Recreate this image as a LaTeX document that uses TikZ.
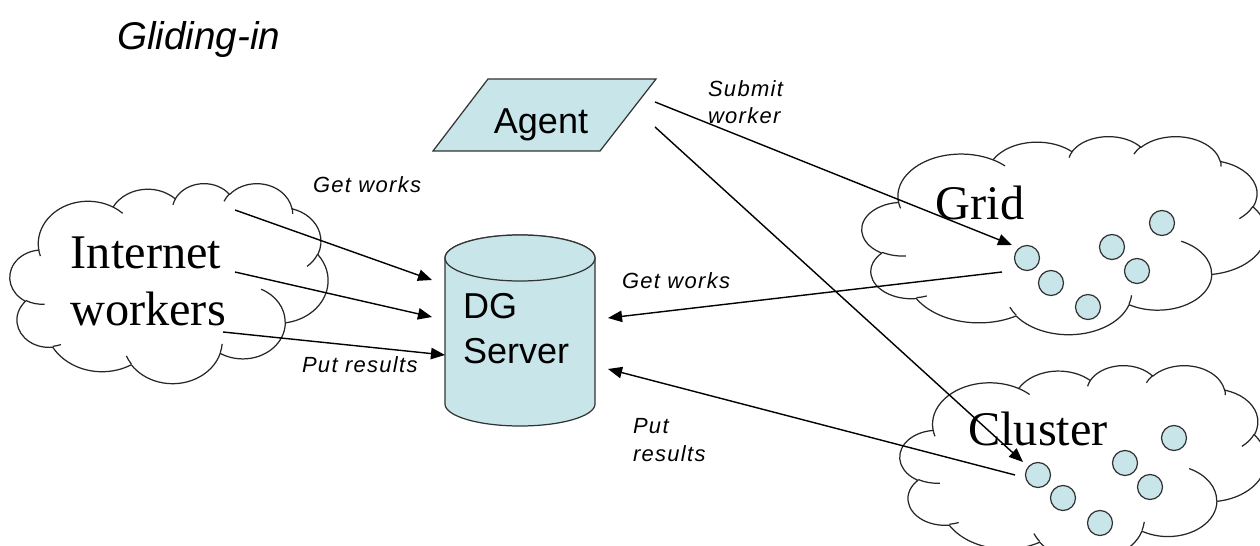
\documentclass[tikz,border=0pt]{standalone}
\usepackage{fontspec}
\setmainfont{Liberation Sans}
\newfontfamily\cloudfont{Liberation Serif}
\newfontfamily\notefont[LetterSpace=6]{Liberation Sans}
\usetikzlibrary{arrows.meta}
\definecolor{dgblue}{RGB}{200,230,234}

% Cloud outline, built from elliptical arcs in a 43.2 x 43.2 unit box.
% Arc angles are given as ray angles and turned into parametric ones.
\newcommand\cldmove[2]{\xdef\cldpath{\cldpath(#1,#2)}}
\newcommand\cldarc[4]{%
  \pgfmathsetmacro\cldS{atan2((#1)*sin(#3),(#2)*cos(#3))}%
  \pgfmathsetmacro\cldE{atan2((#1)*sin((#3)+(#4)),(#2)*cos((#3)+(#4)))}%
  \pgfmathsetmacro\cldE{ifthenelse(\cldE<\cldS,\cldE+360,\cldE)}%
  \xdef\cldpath{\cldpath arc[start angle=\cldS,end angle=\cldE,x radius=#1,y radius=#2]}%
}
\gdef\cldpath{}
\cldmove{3.9}{14.37}
\cldarc{6.753}{9.19}{-190.48748}{123.78053}
\cldarc{5.333}{7.267}{-144.10238}{89.94523}
\cldarc{4.365}{5.945}{-145.80792}{99.72302}
\cldarc{4.857}{6.595}{-130.98607}{117.24173}
\cldarc{5.333}{7.273}{-78.70888}{109.02692}
\cldarc{6.775}{9.22}{-46.26725}{130.269}
\cldarc{5.785}{7.867}{0.62502}{114.03333}
\cldarc{6.752}{9.215}{22.4516}{115.17255}
\cldarc{7.72}{10.543}{66.24263}{75.71102}
\cldarc{4.36}{5.918}{-274.94208}{146.73557}
\cldarc{4.345}{5.945}{-246.8285}{152.51885}
\xdef\cldouter{\cldpath -- cycle}
\gdef\cldpath{}
\cldmove{4.693}{26.177}\cldarc{4.345}{5.945}{86.742}{26.4295}
\cldmove{6.928}{34.899}\cldarc{4.36}{5.918}{73.61047}{11.44747}
\cldmove{16.478}{39.09}\cldarc{6.752}{9.215}{137.62415}{14.0811}
\cldmove{28.827}{34.751}\cldarc{6.752}{9.215}{6.45327}{15.99835}
\cldmove{34.129}{22.954}\cldarc{5.785}{7.867}{-70.29235}{70.91737}
\cldmove{41.798}{15.354}\cldarc{5.333}{7.273}{30.31803}{27.7515}
\cldmove{38.324}{5.426}\cldarc{4.857}{6.595}{-13.74433}{14.8589}
\cldmove{29.078}{3.952}\cldarc{4.857}{6.595}{-149.18145}{18.19537}
\cldmove{22.141}{4.72}\cldarc{4.365}{5.945}{-163.49427}{17.68635}
\cldmove{14}{5.192}\cldarc{6.753}{9.19}{-66.70695}{12.31935}
\cldmove{4.127}{15.789}\cldarc{6.753}{9.19}{157.65435}{11.85817}
\global\let\cldinner\cldpath

% \drawcloud{left}{top}{width}{height}
\newcommand\drawcloud[4]{%
  \pgfmathsetmacro\cldxu{#3*0.02/43.2}%
  \pgfmathsetmacro\cldyu{-#4*0.02/43.2}%
  \begin{scope}[shift={(#1,#2)}, x=\cldxu cm, y=\cldyu cm]
    \draw[cloudline] \cldouter;
    \draw[cloudline] \cldinner;
  \end{scope}}

\begin{document}
\begin{tikzpicture}[x=0.02cm, y=-0.02cm,
  cloudline/.style={draw=black!85, line width=0.7pt, line join=round},
  shade/.style={fill=dgblue, draw=black!80, line width=0.7pt},
  worker/.style={fill=dgblue, draw=black!80, line width=0.7pt},
  flow/.style={draw=black, line width=0.8pt, -{Triangle[length=8pt,width=6.5pt]}},
  txt/.style={inner sep=0pt, outer sep=0pt},
  bigserif/.style={txt, font=\cloudfont\fontsize{27.5pt}{32pt}\selectfont},
  boxtext/.style={txt, font=\fontsize{20.5pt}{24pt}\selectfont},
  note/.style={txt, anchor=base west, font=\notefont\itshape\fontsize{12.5pt}{14pt}\selectfont}]
\useasboundingbox (0,0) rectangle (1260,546);
\fill[white] (0,0) rectangle (1260,546);

% title
\node[txt, anchor=base west, font=\itshape\fontsize{22pt}{26pt}\selectfont] (title) at (117,50) {Gliding-in};

% clouds
\drawcloud{10}{183}{318}{200}
\drawcloud{862}{136}{404}{198}
\drawcloud{900}{365}{366}{195}

\node[bigserif, anchor=base] (iw1) at (146,269) {Internet};
\node[bigserif, anchor=base] (iw2) at (148,326) {workers};
\node[bigserif, anchor=base] (grid) at (980,220) {Grid};
\node[bigserif, anchor=base] (cluster) at (1038,446) {Cluster};

% worker machines
\foreach \p in {(1027,258),(1051,283),(1088,307),(1112,247),(1137,271),(1162,223)}
  \draw[worker] \p circle[radius=12.5];
\foreach \p in {(1038,475),(1063,498),(1100,523),(1125,463),(1150,487),(1174,438)}
  \draw[worker] \p circle[radius=12.5];

% agent
\draw[shade] (488,79) -- (656,79) -- (600,151) -- (433,151) -- cycle;
\node[boxtext, anchor=base] (agent) at (541,134) {Agent};

% DG server
\path[shade] (445,258) -- (445,404)
  arc[start angle=180, end angle=0, x radius=75, y radius=22]
  -- (595,258) arc[start angle=0, end angle=-180, x radius=75, y radius=23] -- cycle;
\draw[shade] (520,258) ellipse[x radius=75, y radius=23];
\node[boxtext, anchor=base west] (dg) at (463,319) {DG};
\node[boxtext, anchor=base west] (srv) at (463,364) {Server};

% labels
\node[note] (lgw) at (313,193) {Get works};
\node[note] (lpr) at (302,373) {Put results};
\node[note] (rgw) at (622,289) {Get works};
\node[note] (sub1) at (708,97) {Submit};
\node[note] (sub2) at (708,124) {worker};
\node[note] (rpr1) at (633,434) {Put};
\node[note] (rpr2) at (633,462) {results};

% connector ends
\coordinate (iwA) at (235,210);
\coordinate (iwB) at (235,272);
\coordinate (iwC) at (223,332);
\coordinate (srvA) at (432,280);
\coordinate (srvB) at (432,317);
\coordinate (srvC) at (445,355);
\coordinate (srvD) at (608,318);
\coordinate (srvE) at (608,369);
\coordinate (gridOut) at (1002,272);
\coordinate (gridIn) at (1012,245);
\coordinate (clOut) at (1015,475);
\coordinate (clIn) at (1023,462);
\coordinate (agA) at (655,102);
\coordinate (agB) at (655,127);

\draw[flow] (iwA) -- (srvA);
\draw[flow] (iwB) -- (srvB);
\draw[flow] (iwC) -- (srvC);
\draw[flow] (gridOut) -- (srvD);
\draw[flow] (clOut) -- (srvE);
\draw[flow] (agA) -- (gridIn);
\draw[flow] (agB) -- (clIn);
\end{tikzpicture}
\end{document}
